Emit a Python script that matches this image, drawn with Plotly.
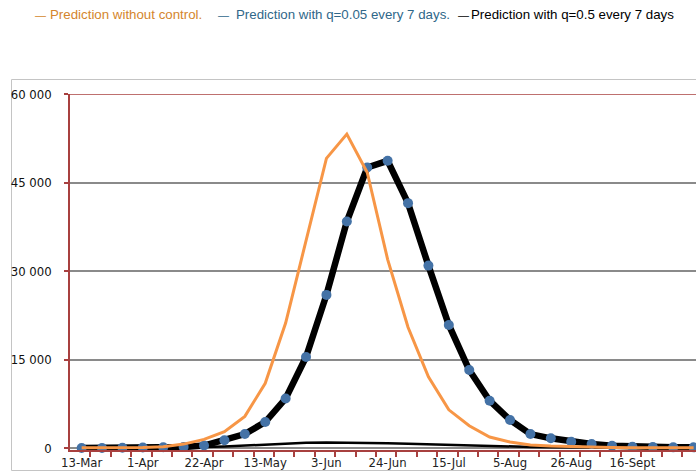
import plotly.graph_objects as go

# ---- data (weekly points) ----
weeks = list(range(31))
tick_pos = [0, 3, 6, 9, 12, 15, 18, 21, 24, 27]
tick_labels = ["13-Mar", "1-Apr", "22-Apr", "13-May", "3-Jun", "24-Jun",
               "15-Jul", "5-Aug", "26-Aug", "16-Sept"]

no_control = [100, 100, 100, 120, 250, 700, 1500, 2800, 5400, 11000, 21200,
              35300, 49100, 53200, 46700, 32000, 20500, 12100, 6500, 3800,
              1900, 1050, 550, 370, 250, 180, 130, 100, 80, 70, 60]
q005 = [50, 50, 80, 110, 170, 200, 450, 1340, 2400, 4440, 8420, 15460, 25970,
        38390, 47550, 48680, 41510, 30930, 20880, 13250, 8050, 4780, 2400,
        1680, 1100, 710, 420, 250, 200, 150, 150]
q05 = [50, 60, 70, 90, 120, 170, 200, 300, 450, 650, 820, 920, 970, 970, 930,
       860, 770, 660, 560, 470, 380, 290, 220, 160, 120, 90, 70, 50, 40, 30, 25]

y_ticks = [0, 15000, 30000, 45000, 60000]
y_tick_text = ["0", "15 000", "30 000", "45 000", "60 000"]

legend_names = ["Prediction without control.",
                "Prediction with q=0.05 every 7 days.",
                "Prediction with q=0.5 every 7 days"]

ORANGE = "#F79646"
BLUE = "#4472A6"
AXIS_RED = "#A8403F"
GRID = "#8A8A8A"

W, H = 696, 472
ML, MR, MT, MB = 70, 0, 94, 22
PW, PH = W - ML - MR, H - MT - MB
x0 = -0.57
x1 = x0 + PW / 20.4

fig = go.Figure()
fig.add_trace(go.Scatter(x=weeks, y=q05, mode="lines", name=legend_names[2],
                         line=dict(color="black", width=2.5)))
fig.add_trace(go.Scatter(x=weeks, y=q005, mode="lines", name=legend_names[1],
                         line=dict(color="black", width=6.5)))
fig.add_trace(go.Scatter(x=weeks, y=q005, mode="markers", name=legend_names[1],
                         marker=dict(color=BLUE, size=10), cliponaxis=False))
fig.add_trace(go.Scatter(x=weeks, y=no_control, mode="lines", name=legend_names[0],
                         line=dict(color=ORANGE, width=3)))


def px2x(px):
    return (px - ML) / PW


def px2y(py):
    return (MT + PH - py) / PH


annotations = []
legend_items = [
    (34, 49, "#D4852C", legend_names[0]),
    (217, 235, "#2F6789", legend_names[1]),
    (457, 470, "#000000", legend_names[2]),
]
for dash_x, text_x, col, name in legend_items:
    annotations.append(dict(x=px2x(dash_x), y=px2y(15), xref="paper", yref="paper",
                            xanchor="left", yanchor="middle", showarrow=False,
                            text="\u2014", font=dict(family="Liberation Sans", size=11, color=col),
                            borderpad=0))
    annotations.append(dict(x=px2x(text_x), y=px2y(15), xref="paper", yref="paper",
                            xanchor="left", yanchor="middle", showarrow=False,
                            text=name, font=dict(family="Liberation Sans", size=13.3, color=col),
                            borderpad=0))

shapes = [
    # outer light frame
    dict(type="rect", xref="paper", yref="paper",
         x0=px2x(11.5), x1=px2x(720), y0=px2y(470.5), y1=px2y(79.5),
         line=dict(color="#C4C4C4", width=1), layer="below"),
    # top red border at 60 000
    dict(type="line", xref="paper", yref="y", x0=0, x1=1, y0=60000, y1=60000,
         line=dict(color=AXIS_RED, width=1.5), layer="below"),
]

boundaries = [x0 + k for k in range(1, 32)]

fig.update_layout(
    width=W, height=H,
    margin=dict(l=ML, r=MR, t=MT, b=MB),
    paper_bgcolor="white", plot_bgcolor="white",
    showlegend=False,
    annotations=annotations,
    shapes=shapes,
    xaxis=dict(range=[x0, x1], tickmode="array", tickvals=tick_pos, ticktext=tick_labels,
               ticks="", showgrid=False, zeroline=False,
               showline=True, linecolor=AXIS_RED, linewidth=1.5,
               tickfont=dict(family="DejaVu Sans Condensed, DejaVu Sans", size=13, color="#222222"),
               minor=dict(tickmode="array", tickvals=boundaries, ticks="outside",
                          ticklen=5, tickwidth=1.5, tickcolor=AXIS_RED, showgrid=False)),
    yaxis=dict(range=[-300, 60000], tickmode="array", tickvals=y_ticks, ticktext=y_tick_text,
               ticks="outside", ticklen=4, tickwidth=1.5, tickcolor=AXIS_RED,
               showgrid=True, gridcolor=GRID, gridwidth=1.5, zeroline=False,
               showline=True, linecolor=AXIS_RED, linewidth=1.5,
               ticklabelstandoff=10,
               tickfont=dict(family="DejaVu Sans Condensed, DejaVu Sans", size=13, color="#111111")),
)

fig.write_html("out.html",
               config={"displayModeBar": False},
               post_script="document.body.style.margin='0';document.body.style.overflow='hidden';")
